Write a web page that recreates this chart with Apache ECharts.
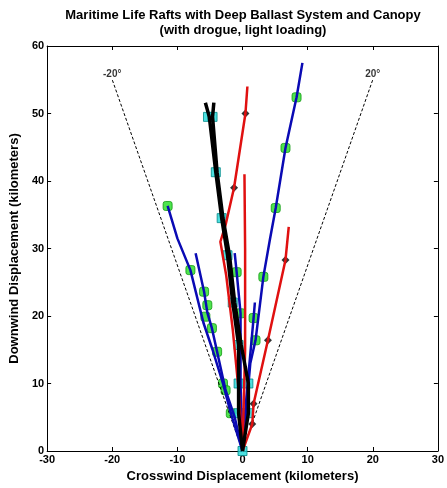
<!DOCTYPE html>
<html>
<head>
<meta charset="utf-8">
<script src="https://cdn.jsdelivr.net/npm/echarts@6/dist/echarts.min.js"></script>
<style>
  html, body { margin: 0; padding: 0; background: #fff; }
  #chart { width: 447px; height: 488px; }
</style>
</head>
<body>
<div id="chart"></div>
<script>
'use strict';

// tick values
var xTicks = [-30, -20, -10, 0, 10, 20, 30];
var yTicks = [0, 10, 20, 30, 40, 50, 60];

// +/-20 degree envelope
var envLeft = [[0, 0], [-20, 55]];
var envRight = [[0, 0], [20, 55]];
var envLabels = [[-20, 55, '-20°'], [20, 55, '20°']];

// blue trajectories
var blue1 = [[0, 0], [-1.8, 5.6], [-3, 10], [-4.6, 15], [-6, 19], [-8, 26.8], [-10, 31.5], [-11.5, 36.3]];
var blue2 = [[0, 0], [-1.2, 5], [-2.6, 9], [-3.9, 14.7], [-4.7, 18.2], [-5.4, 20.5], [-5.9, 23.6], [-7.2, 29.3]];
var blue3 = [[0, 0], [1.2, 13], [2, 16.4], [3.2, 25.8], [4.2, 31.3], [5.1, 36], [6.6, 44.9], [8.3, 52.4], [9.2, 57.5]];
var blue4 = [[0, 0], [-0.3, 10], [-0.3, 20.4], [-0.9, 26.5], [-1.2, 29.3]];
var blue5 = [[0, 0], [0.6, 8], [1.7, 19.7], [1.9, 22]];
var greenMarks = [[-11.5, 36.3], [-8, 26.8], [-3, 10], [-1.8, 5.6],
  [-2.6, 9], [-3.9, 14.7], [-4.7, 18.2], [-5.7, 19.9], [-5.4, 21.6], [-5.9, 23.6],
  [2, 16.4], [3.2, 25.8], [5.1, 36], [6.6, 44.9], [8.3, 52.4],
  [-0.9, 26.5], [-0.3, 20.4], [1.7, 19.7]];

// red trajectories
var red1 = [[0, 0], [-0.5, 8], [-1.5, 18], [-2.5, 26], [-3.4, 31], [-2.6, 33.5], [-1.3, 39], [0.45, 50], [0.75, 54]];
var red2 = [[0, 0], [0.4, 15], [0.4, 30], [0.3, 41]];
var red3 = [[0, 0], [1.5, 4], [1.7, 7], [3.9, 16.4], [6.6, 28.3], [7.1, 33.2]];
var blackMarks = [[-1.3, 39], [0.45, 50], [6.6, 28.3], [3.9, 16.4], [1.7, 7], [1.5, 4]];

// black trajectories
var black1 = [[0, 0], [-0.6, 5.6], [-0.6, 10], [-0.6, 15.7], [-1.5, 22], [-2.3, 29], [-3.2, 34.5], [-4.1, 41.3], [-5.1, 49.5], [-5.7, 51.6]];
var black2 = [[0, 0], [0.9, 5.6], [0.9, 10], [-0.2, 15.7], [-1.2, 22], [-2, 29], [-3, 34.5], [-3.9, 41.3], [-4.6, 49.5], [-4.4, 51.6]];
var cyanMarks = [[0, 0], [-0.6, 5.6], [0.9, 5.6], [-0.6, 10], [0.9, 10], [-0.6, 15.7], [-1.5, 22],
  [-2.3, 29], [-3.2, 34.5], [-4.1, 41.3], [-5.3, 49.5], [-4.6, 49.5]];

var font = '"Liberation Sans", Arial, sans-serif';

function line(data, color, width) {
  return {
    type: 'line', data: data, symbol: 'none', silent: true,
    lineStyle: {color: color, width: width}
  };
}

var chartDom = document.getElementById('chart');
var myChart = echarts.init(chartDom, null, {renderer: 'canvas'});

function axisCommon() {
  return {
    axisLine: {show: true, onZero: false, lineStyle: {color: '#000', width: 1}},
    axisTick: {show: true, inside: true, length: 4, lineStyle: {color: '#000'}},
    splitLine: {show: false}
  };
}

var option = {
  animation: false,
  backgroundColor: '#fff',
  graphic: [
    {type: 'text', x: 243, y: 8, style: {
      text: 'Maritime Life Rafts with Deep Ballast System and Canopy\n(with drogue, light loading)',
      font: 'bold 13px ' + font, fill: '#000', align: 'center', lineHeight: 15
    }}
  ],
  grid: {left: 43, right: 6, top: 46, bottom: 37},
  xAxis: [
    Object.assign({
      type: 'value', min: -30, max: 30, interval: 10, position: 'bottom',
      name: 'Crosswind Displacement (kilometers)', nameLocation: 'middle', nameGap: 17,
      nameTextStyle: {fontFamily: font, fontWeight: 'bold', fontSize: 13, color: '#000'},
      axisLabel: {fontFamily: font, fontWeight: 'bold', fontSize: 11, color: '#000', margin: 3,
        formatter: function (v) { return xTicks.indexOf(v) >= 0 ? String(v) : ''; }}
    }, axisCommon()),
    Object.assign({
      type: 'value', min: -30, max: 30, interval: 10, position: 'top',
      axisLabel: {show: false}
    }, axisCommon())
  ],
  yAxis: [
    Object.assign({
      type: 'value', min: 0, max: 60, interval: 10, position: 'left',
      name: 'Downwind Displacement (kilometers)', nameLocation: 'middle', nameGap: 22,
      nameTextStyle: {fontFamily: font, fontWeight: 'bold', fontSize: 13, color: '#000'},
      axisLabel: {fontFamily: font, fontWeight: 'bold', fontSize: 11, color: '#000', margin: 3,
        formatter: function (v) { return yTicks.indexOf(v) >= 0 ? String(v) : ''; }}
    }, axisCommon()),
    Object.assign({
      type: 'value', min: 0, max: 60, interval: 10, position: 'right',
      axisLabel: {show: false}
    }, axisCommon())
  ],
  series: [
    {type: 'line', data: envLeft, symbol: 'none', silent: true,
      lineStyle: {color: '#000', width: 1, type: [3, 2]}},
    {type: 'line', data: envRight, symbol: 'none', silent: true,
      lineStyle: {color: '#000', width: 1, type: [3, 2]}},
    {type: 'scatter', data: envLabels, symbolSize: 0, silent: true,
      label: {show: true, position: 'top', distance: 1, color: '#000',
        fontFamily: font, fontWeight: 'bold', fontSize: 10,
        formatter: function (p) { return p.data[2]; }}},
    line(blue1, '#0a0ab4', 2.5),
    line(blue2, '#0a0ab4', 2.5),
    line(blue3, '#0a0ab4', 2.5),
    line(blue4, '#0a0ab4', 2.5),
    line(blue5, '#0a0ab4', 2.5),
    line(red1, '#e01010', 2.5),
    line(red2, '#e01010', 2.5),
    line(red3, '#e01010', 2.5),
    line(black1, '#000', 3.5),
    line(black2, '#000', 3.5),
    {type: 'scatter', data: greenMarks, symbol: 'roundRect', symbolSize: 9, silent: true,
      itemStyle: {color: '#22dd22', borderColor: '#119911', borderWidth: 1}},
    {type: 'scatter', data: blackMarks, symbol: 'diamond', symbolSize: 8, silent: true,
      itemStyle: {color: '#000'}},
    {type: 'scatter', data: cyanMarks, symbol: 'rect', symbolSize: 9, silent: true,
      itemStyle: {color: '#1ed8d8', borderColor: '#008888', borderWidth: 1}}
  ]
};

option && myChart.setOption(option);
</script>
</body>
</html>
